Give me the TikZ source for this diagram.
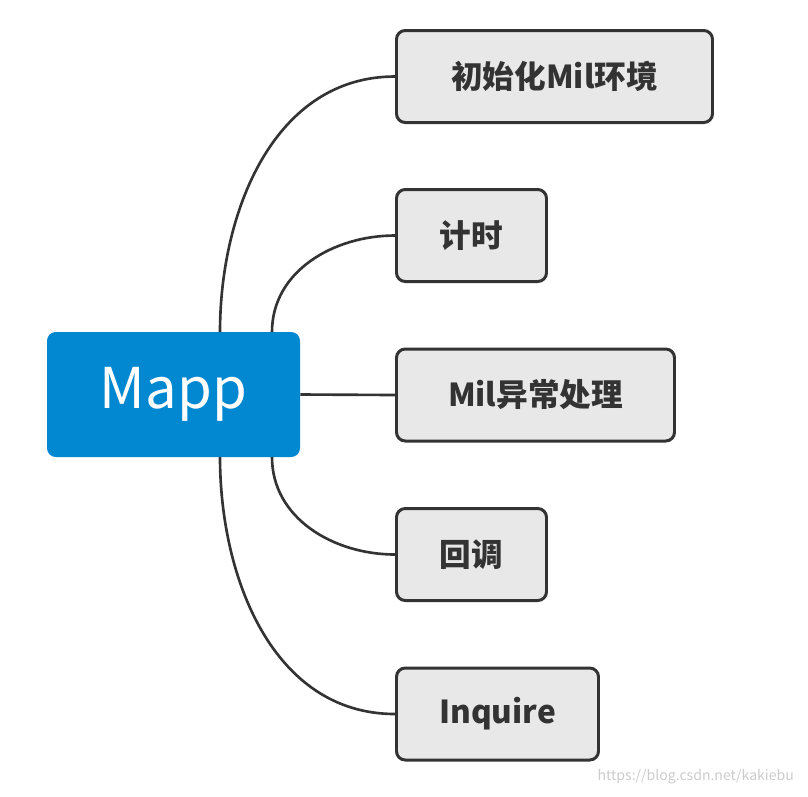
\documentclass[tikz,border=0pt]{standalone}
\usepackage{fontspec}
\setmainfont{Noto Sans CJK SC}
\newfontfamily\cjkbold{Noto Sans CJK SC Bold}
\usetikzlibrary{positioning}
\definecolor{mappblue}{HTML}{0288D1}
\definecolor{leafgray}{HTML}{E8E8E8}
\definecolor{edgegray}{HTML}{333333}
\tikzset{
  root/.style={fill=mappblue, rounded corners=5pt, minimum width=253*0.02cm, minimum height=125*0.02cm, text=white, font=\fontsize{32}{36}\selectfont},
  leaf/.style={draw=edgegray, line width=1.7pt, fill=leafgray, rounded corners=5pt, minimum height=92*0.02cm, anchor=west, text=edgegray, font=\fontsize{18}{22}\selectfont\bfseries},
  branch/.style={draw=edgegray, line width=1.5pt}
}
\begin{document}
\begin{tikzpicture}[x=0.02cm,y=-0.02cm]
  \useasboundingbox (0,0) rectangle (808,796);
  \node[root] (mapp) at (173.5,394.5) {Mapp};
  \node[leaf, minimum width=316*0.02cm] (init) at (395,76.5) {初始化Mil环境};
  \node[leaf, minimum width=150*0.02cm] (timer) at (395,235.5) {计时};
  \node[leaf, minimum width=278*0.02cm] (error) at (395,395) {Mil异常处理};
  \node[leaf, minimum width=150*0.02cm] (callback) at (395,554.5) {回调};
  \node[leaf, minimum width=202*0.02cm] (inquire) at (395,714) {Inquire};

  \coordinate (s1) at (220,332);
  \coordinate (s2) at (272,332);
  \coordinate (s4) at (272,457);
  \coordinate (s5) at (220,457);
  \draw[branch] (s1) to[out=-90+180,in=180] (init.west);
  \draw[branch] (s2) to[out=90,in=180] (timer.west);
  \draw[branch] (mapp.east) -- (error.west);
  \draw[branch] (s4) to[out=-90,in=180] (callback.west);
  \draw[branch] (s5) to[out=-90,in=180] (inquire.west);

  \node[text=gray!40, font=\fontsize{8}{10}\selectfont, anchor=south east] (mark) at (800,790) {https://blog.csdn.net/kakiebu};
\end{tikzpicture}
\end{document}
